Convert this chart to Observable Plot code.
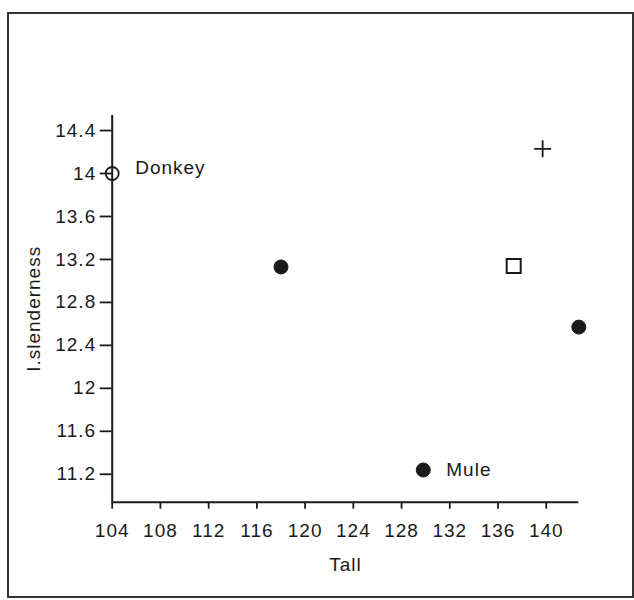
<!DOCTYPE html>
<html>
<head>
<meta charset="utf-8">
<script src="https://cdn.jsdelivr.net/npm/d3@7"></script>
<script src="https://cdn.jsdelivr.net/npm/@observablehq/plot@0.6"></script>
<style>
  body { margin: 0; background: #fff; }
  #wrap { position: relative; width: 634px; height: 600px; overflow: hidden; background: #fff; }
  #border { position: absolute; left: 7px; top: 12px; width: 623px; height: 582px; border: 2px solid #333; }
  #chart { position: absolute; left: 0; top: 0; }
</style>
</head>
<body>
<div id="wrap">
  <div id="border"></div>
  <div id="chart"></div>
</div>
<script>
// ---- data ----
const names       = ["Donkey", "", "Mule", "", "", ""];
const tall        = [104.0, 118.0, 129.8, 139.7, 137.3, 142.7];
const slenderness = [14.00, 13.13, 11.24, 14.23, 13.14, 12.57];
const kinds       = ["open", "filled", "filled", "plus", "square", "filled"];

const xTicks = [104, 108, 112, 116, 120, 124, 128, 132, 136, 140];
const yTicks = [11.2, 11.6, 12, 12.4, 12.8, 13.2, 13.6, 14, 14.4];
const xDomain = [104, 142.7];
const yDomain = [10.94, 14.54];
const xLabel = "Tall";
const yLabel = "I.slenderness";

const rows = names.map((n, i) => ({name: n, tall: tall[i], slenderness: slenderness[i], kind: kinds[i]}));
const ink = "#1a1a1a";

const chart = Plot.plot({
  width: 634,
  height: 600,
  marginLeft: 111.7,
  marginRight: 55.7,
  marginTop: 115,
  marginBottom: 98.3,
  style: {fontFamily: "'Liberation Sans', Arial, sans-serif", fontSize: "19px", letterSpacing: "1px", color: ink, background: "transparent"},
  x: {domain: xDomain},
  y: {domain: yDomain},
  marks: [
    Plot.ruleX([xDomain[0]], {stroke: ink, strokeWidth: 2}),
    Plot.ruleY([yDomain[0]], {stroke: ink, strokeWidth: 2}),
    Plot.axisX({ticks: xTicks, tickSize: 7, tickPadding: 14, label: null, stroke: ink, strokeWidth: 1.8, fill: ink, tickFormat: d => String(d)}),
    Plot.axisY({ticks: yTicks, tickSize: 12, tickPadding: 4, label: null, stroke: ink, strokeWidth: 1.8, fill: ink, tickFormat: d => String(+d.toFixed(1))}),
    Plot.dot(rows.filter(d => d.kind === "filled"), {x: "tall", y: "slenderness", r: 7, fill: ink, stroke: ink, strokeWidth: 1}),
    Plot.dot(rows.filter(d => d.kind === "open"), {x: "tall", y: "slenderness", r: 6.5, fill: "none", stroke: ink, strokeWidth: 1.8}),
    Plot.dot(rows.filter(d => d.kind === "square"), {x: "tall", y: "slenderness", symbol: "square", r: 7.9, fill: "none", stroke: ink, strokeWidth: 2}),
    Plot.dot(rows.filter(d => d.kind === "plus"), {x: "tall", y: "slenderness", symbol: "plus", r: 5.5, stroke: ink, strokeWidth: 1.8}),
    Plot.text(rows.filter(d => d.name === "Donkey"), {x: "tall", y: "slenderness", text: "name", textAnchor: "start", dx: 23, dy: -6, fill: ink}),
    Plot.text(rows.filter(d => d.name === "Mule"), {x: "tall", y: "slenderness", text: "name", textAnchor: "start", dx: 23, dy: 0, fill: ink}),
    Plot.text([xLabel], {frameAnchor: "bottom", lineAnchor: "middle", dy: 63, fill: ink}),
    Plot.text([yLabel], {frameAnchor: "left", lineAnchor: "middle", textAnchor: "middle", rotate: -90, dx: -78.7, fill: ink})
  ]
});
document.getElementById("chart").appendChild(chart);
</script>
</body>
</html>
